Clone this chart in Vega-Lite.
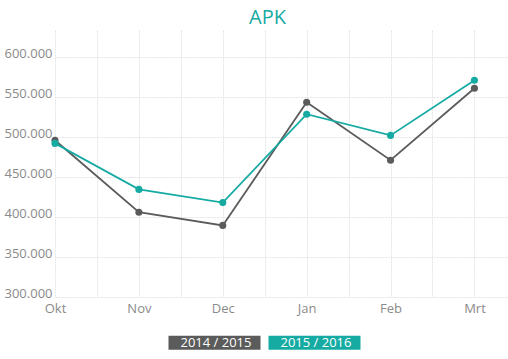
{
  "$schema": "https://vega.github.io/schema/vega-lite/v6.json",
  "width": 453,
  "height": 267,
  "autosize": {"type": "none"},
  "padding": {"left": 55, "top": 30, "right": 0, "bottom": 62},
  "background": "white",
  "title": {
    "text": "APK",
    "color": "#17aaa2",
    "font": "Open Sans",
    "fontSize": 20,
    "fontWeight": "normal",
    "anchor": "middle",
    "dx": -14,
    "offset": 2
  },
  "config": {
    "view": {"stroke": null},
    "font": "Open Sans"
  },
  "data": {
    "values": [
      {"month": "Okt", "m": 0, "season": "2014 / 2015", "value": 496000},
      {"month": "Nov", "m": 1, "season": "2014 / 2015", "value": 406000},
      {"month": "Dec", "m": 2, "season": "2014 / 2015", "value": 389500},
      {"month": "Jan", "m": 3, "season": "2014 / 2015", "value": 543500},
      {"month": "Feb", "m": 4, "season": "2014 / 2015", "value": 471000},
      {"month": "Mrt", "m": 5, "season": "2014 / 2015", "value": 561000},
      {"month": "Okt", "m": 0, "season": "2015 / 2016", "value": 492000},
      {"month": "Nov", "m": 1, "season": "2015 / 2016", "value": 434500},
      {"month": "Dec", "m": 2, "season": "2015 / 2016", "value": 418000},
      {"month": "Jan", "m": 3, "season": "2015 / 2016", "value": 528500},
      {"month": "Feb", "m": 4, "season": "2015 / 2016", "value": 502000},
      {"month": "Mrt", "m": 5, "season": "2015 / 2016", "value": 571000}
    ]
  },
  "mark": {"type": "line", "strokeWidth": 1.8, "point": {"filled": true, "size": 50, "opacity": 1}},
  "encoding": {
    "x": {
      "field": "m",
      "type": "quantitative",
      "scale": {"domain": [0, 5.4], "nice": false, "zero": false},
      "axis": {
        "title": null,
        "values": [0, 0.5, 1, 1.5, 2, 2.5, 3, 3.5, 4, 4.5, 5],
        "labelExpr": "datum.value % 1 == 0 ? ['Okt','Nov','Dec','Jan','Feb','Mrt'][datum.value] : ''",
        "labelFontSize": 13,
        "labelColor": "#8a8a8a",
        "labelPadding": 5,
        "labelFlush": false,
        "ticks": false,
        "domain": false,
        "grid": true,
        "gridColor": "#e4e4e4",
        "gridDash": [2, 1],
        "gridWidth": 1
      }
    },
    "y": {
      "field": "value",
      "type": "quantitative",
      "scale": {"domain": [300000, 633750], "nice": false, "zero": false},
      "axis": {
        "title": null,
        "values": [300000, 350000, 400000, 450000, 500000, 550000, 600000],
        "labelExpr": "replace(format(datum.value, ','), ',', '.')",
        "labelFontSize": 13,
        "labelColor": "#8a8a8a",
        "labelPadding": 3,
        "labelBaseline": "alphabetic",
        "ticks": false,
        "domain": false,
        "grid": true,
        "gridColor": "#e4e4e4",
        "gridDash": [2, 1],
        "gridWidth": 1
      }
    },
    "color": {
      "field": "season",
      "type": "nominal",
      "scale": {"domain": ["2014 / 2015", "2015 / 2016"], "range": ["#5b5b5b", "#15aba3"]},
      "legend": {
        "title": null,
        "orient": "none",
        "legendX": 153,
        "legendY": 306,
        "direction": "horizontal",
        "symbolType": "M-9.2,-1.4H9.2V1.4H-9.2Z",
        "symbolSize": 100,
        "symbolStrokeWidth": 0,
        "symbolOpacity": 1,
        "labelColor": "white",
        "labelFontSize": 13,
        "labelAlign": "center",
        "labelOffset": -5,
        "columnPadding": 7
      }
    }
  }
}
